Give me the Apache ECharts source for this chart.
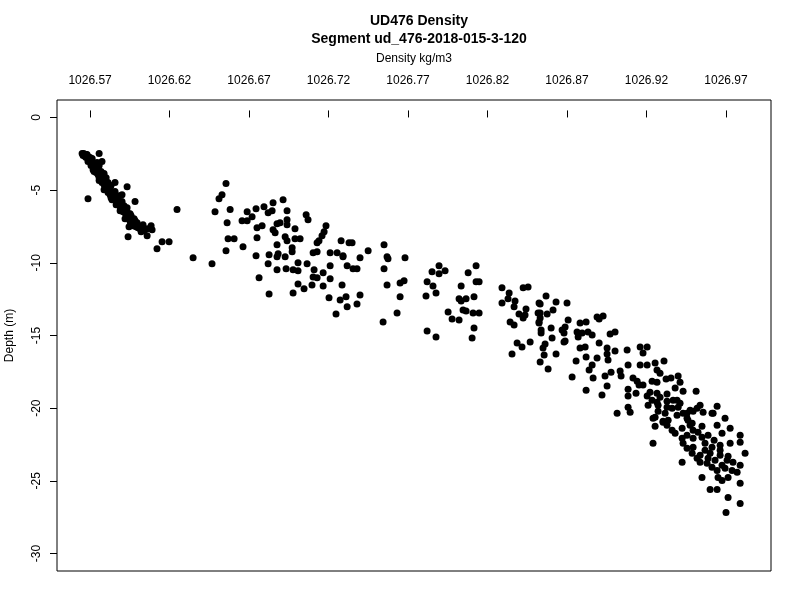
<!DOCTYPE html>
<html>
<head>
<meta charset="utf-8">
<script src="https://cdn.jsdelivr.net/npm/echarts@6/dist/echarts.min.js"></script>
<style>html,body{margin:0;padding:0;background:#fff}#c{width:800px;height:600px}</style>
</head>
<body>
<div id="c"></div>
<script>
const xTicks = [1026.57, 1026.62, 1026.67, 1026.72, 1026.77, 1026.82, 1026.87, 1026.92, 1026.97];
const yTicks = [0, -5, -10, -15, -20, -25, -30];
const titleMain = 'UD476 Density';
const titleSub = 'Segment ud_476-2018-015-3-120';
const xName = 'Density kg/m3';
const yName = 'Depth (m)';

// [density, depth] samples grouped by depth band
const bandSurface = [
[1026.565,-2.48],[1026.566,-2.48],[1026.5675,-2.55],[1026.5656,-2.62],[1026.5669,-2.69],[1026.5687,-2.69],[1026.5681,-2.55],[1026.570,-2.76],[1026.5694,-2.90],[1026.5706,-2.97],
[1026.5719,-3.10],[1026.5713,-3.24],[1026.5725,-3.31],[1026.5738,-3.38],[1026.5731,-3.52],[1026.5744,-3.59],[1026.5725,-3.72],[1026.5738,-3.79],[1026.575,-3.93],[1026.5763,-4.00],
[1026.5757,-4.14],[1026.5769,-4.28],[1026.5782,-4.34],[1026.5775,-4.48],[1026.5788,-4.62],[1026.5801,-4.69],[1026.5794,-4.83],[1026.5807,-4.97],[1026.582,-5.03],[1026.5813,-5.17],
[1026.5826,-5.31],[1026.5838,-5.38],[1026.5832,-5.52],[1026.5851,-5.52],[1026.5864,-5.59],[1026.5876,-5.66],[1026.587,-5.79],[1026.5882,-5.93],[1026.5895,-6.00],[1026.5889,-6.14],
[1026.5901,-6.28],[1026.5914,-6.34],[1026.5908,-6.48],[1026.592,-6.55],[1026.5933,-6.48],[1026.5926,-6.69],[1026.5939,-6.83],[1026.5945,-6.97],[1026.5958,-7.03],[1026.5952,-7.17],
[1026.5964,-7.24],[1026.5977,-7.31],[1026.597,-7.45],[1026.5989,-7.52],[1026.6002,-7.59],[1026.6015,-7.66],[1026.6027,-7.72],[1026.6021,-7.86],[1026.604,-7.79],
[1026.5757,-2.48],[1026.5775,-3.03],[1026.5857,-4.48],[1026.5933,-4.76],[1026.5983,-5.79],[1026.5687,-5.59],[1026.6033,-7.38],[1026.6059,-7.66],[1026.6084,-7.45],[1026.609,-7.72],
[1026.6059,-8.14],[1026.5939,-8.21],[1026.6153,-8.55],[1026.6197,-8.55],[1026.6121,-9.03],[1026.5901,-5.31],
[1026.5675,-2.76],[1026.5713,-2.83],[1026.575,-3.45],[1026.5782,-4.07],[1026.5826,-4.90],[1026.5845,-5.17],[1026.5914,-6.07],[1026.5958,-6.76],[1026.5983,-7.10],
[1026.5687,-3.03],[1026.5706,-3.31],[1026.5744,-3.10],[1026.5757,-3.31],[1026.5719,-3.59],[1026.5769,-3.72],[1026.5788,-3.86],[1026.5757,-4.34],[1026.5801,-4.14],[1026.5813,-4.48],
[1026.5788,-4.97],[1026.5832,-4.69],[1026.5838,-5.66],[1026.5857,-5.10],[1026.5882,-5.38],[1026.5864,-6.00],[1026.5901,-5.79],[1026.5889,-6.41],[1026.5933,-6.21],[1026.592,-6.97],
[1026.5952,-6.62],[1026.5977,-6.97],[1026.5945,-7.52],[1026.5996,-7.24]
];
const bandUpper = [
[1026.6247,-6.34],[1026.6348,-9.66],[1026.6467,-10.07],[1026.6555,-4.55],[1026.653,-5.31],[1026.6511,-5.59],[1026.6486,-6.48],[1026.6581,-6.34],[1026.6562,-7.24],[1026.6656,-7.10],
[1026.6688,-7.10],[1026.6688,-6.48],[1026.6719,-6.83],[1026.6744,-6.28],[1026.675,-7.59],[1026.6568,-8.34],[1026.6606,-8.34],[1026.6662,-8.90],[1026.6555,-9.17],[1026.675,-8.28],
[1026.6744,-9.52],[1026.6794,-6.14],[1026.6851,-5.86],[1026.6914,-5.66],[1026.682,-6.55],[1026.6845,-6.41],[1026.6939,-6.41],[1026.6782,-7.45],[1026.6876,-7.31],[1026.6895,-7.24],
[1026.6851,-7.72],[1026.6864,-7.93],[1026.6939,-7.03],[1026.6939,-7.38],[1026.7059,-6.69],[1026.7071,-7.03],[1026.6989,-7.66],[1026.7184,-7.45],[1026.7172,-7.86],[1026.7159,-8.14],
[1026.714,-8.48],[1026.7128,-8.62],[1026.6876,-8.76],[1026.6927,-8.21],[1026.6939,-8.48],[1026.6989,-8.34],[1026.7021,-8.34],[1026.6971,-8.97],[1026.6971,-9.24],[1026.6826,-9.45],
[1026.6876,-9.59],[1026.6883,-9.38],[1026.6927,-9.59],[1026.682,-10.07],[1026.6876,-10.48],[1026.6933,-10.41],[1026.6977,-10.48],[1026.7008,-10.55],[1026.7008,-10.00],[1026.7065,-10.07],
[1026.7103,-9.31],[1026.7128,-9.24],[1026.721,-9.31],[1026.7254,-9.31],[1026.7291,-9.59],[1026.7279,-8.48],[1026.7329,-8.62],[1026.7398,-9.66],[1026.7449,-9.17],[1026.721,-10.21],
[1026.7317,-10.21],[1026.7354,-10.41],[1026.7379,-10.41],[1026.7109,-10.48],[1026.6763,-11.03],[1026.7008,-11.45],[1026.7046,-11.79],[1026.6977,-12.07],[1026.6826,-12.14],[1026.7103,-10.97],
[1026.7096,-11.52],[1026.7128,-11.03],[1026.7166,-10.69],[1026.7166,-11.59],[1026.721,-11.10],[1026.7285,-11.52],[1026.7203,-12.41],[1026.7273,-12.55],[1026.731,-12.34],[1026.7317,-13.03],
[1026.7379,-12.83],[1026.7398,-12.21],[1026.7247,-13.52],[1026.7549,-8.76],[1026.7568,-9.59],[1026.7549,-10.41],[1026.7568,-11.52],[1026.7543,-14.07],[1026.7631,-13.45],[1026.765,-12.34],
[1026.765,-11.38],[1026.7348,-8.62],[1026.7291,-9.52],[1026.7574,-9.72],[1026.7681,-9.66],[1026.7675,-11.24]
];
const bandMiddle = [
[1026.7895,-10.21],[1026.7851,-10.62],[1026.7895,-10.76],[1026.7933,-10.55],[1026.8128,-10.21],[1026.8078,-10.69],[1026.782,-11.31],[1026.7857,-11.59],[1026.7876,-12.07],[1026.7813,-12.28],
[1026.8128,-11.31],[1026.8147,-11.31],[1026.8034,-11.59],[1026.8021,-12.48],[1026.8034,-12.62],[1026.8065,-12.48],[1026.8115,-12.34],[1026.7952,-13.38],[1026.8046,-13.24],[1026.8065,-13.31],
[1026.8109,-13.45],[1026.8147,-13.45],[1026.7977,-13.86],[1026.8021,-13.93],[1026.8115,-14.48],[1026.8103,-15.17],[1026.782,-14.69],[1026.7876,-15.10],[1026.8291,-11.72],[1026.8336,-12.07],
[1026.8329,-12.48],[1026.8291,-12.76],[1026.8373,-12.62],[1026.8424,-11.72],[1026.8455,-11.66],[1026.8367,-13.03],[1026.8442,-13.17],[1026.8398,-13.52],[1026.8424,-13.79],[1026.8436,-13.59],
[1026.8342,-14.07],[1026.8367,-14.28],[1026.8524,-12.76],[1026.8518,-13.45],[1026.8524,-14.07],[1026.8386,-15.52],[1026.8417,-15.79],[1026.8468,-15.45],[1026.8354,-16.28]
];
const bandLower = [
[1026.8568,-12.28],[1026.8531,-12.83],[1026.8631,-12.69],[1026.870,-12.76],[1026.8612,-13.24],[1026.8531,-13.45],[1026.8575,-13.52],[1026.8531,-13.79],[1026.8524,-14.14],[1026.8707,-13.93],
[1026.8537,-14.62],[1026.860,-14.48],[1026.8537,-14.83],[1026.8669,-14.62],[1026.8688,-14.41],[1026.8606,-15.17],[1026.8681,-15.45],[1026.8562,-15.59],[1026.8549,-15.86],[1026.8556,-16.34],
[1026.8631,-16.28],[1026.8531,-16.83],[1026.8581,-17.31],[1026.8681,-14.83],[1026.8688,-15.38],[1026.8782,-14.14],[1026.882,-14.07],[1026.8763,-14.76],[1026.8795,-14.83],[1026.877,-15.10],
[1026.8832,-14.76],[1026.8858,-14.97],[1026.8902,-13.86],[1026.8927,-13.66],[1026.8889,-13.72],[1026.8971,-14.90],[1026.9002,-14.76],[1026.8782,-15.86],[1026.8814,-15.79],[1026.8902,-15.52],
[1026.8952,-15.86],[1026.8952,-16.28],[1026.8958,-16.69],[1026.9002,-16.07],[1026.9078,-16.00],[1026.916,-15.79],[1026.9204,-15.79],[1026.9178,-16.21],[1026.8757,-16.76],[1026.882,-16.48],
[1026.8889,-16.55],[1026.8858,-17.03],[1026.8839,-17.38],[1026.8732,-17.86],[1026.8864,-17.93],[1026.8939,-17.79],[1026.8977,-17.52],[1026.9034,-17.45],[1026.904,-17.79],[1026.9084,-17.03],
[1026.916,-17.03],[1026.9204,-17.03],[1026.9254,-16.90],[1026.931,-16.76],[1026.9266,-17.38],[1026.9285,-17.59],[1026.9115,-17.93],[1026.9141,-18.14],[1026.9153,-18.41],[1026.9178,-18.41],
[1026.9235,-18.14],[1026.9266,-18.21],[1026.9323,-18.00],[1026.9354,-17.93],[1026.9399,-17.79],[1026.9411,-18.21],[1026.882,-18.76],[1026.892,-19.10],[1026.8952,-18.48],[1026.9084,-18.69],
[1026.9084,-19.17],[1026.9134,-18.97],[1026.9204,-19.17],[1026.9222,-18.90],[1026.9266,-18.97],[1026.9285,-19.24],[1026.9329,-19.03],[1026.938,-18.62],[1026.9392,-19.45],[1026.943,-18.83],
[1026.9512,-18.83],[1026.9084,-19.93],[1026.921,-19.79],[1026.9273,-19.79],[1026.9329,-19.93],[1026.9015,-20.34],[1026.9097,-20.28],[1026.9235,-19.45],[1026.9273,-20.21],[1026.9367,-19.45],
[1026.9399,-19.93],[1026.9392,-20.48],[1026.943,-20.34],[1026.9474,-20.14],[1026.9518,-20.00],[1026.9556,-20.28],[1026.9644,-19.86],[1026.9619,-20.34],[1026.9241,-20.69],[1026.9304,-20.90],
[1026.9336,-20.83],[1026.9455,-20.69],[1026.9487,-21.03],[1026.9549,-21.24],[1026.9694,-20.69],[1026.9644,-21.17],[1026.9726,-21.38]
];
const bandDeep = [
[1026.9266,-19.59],[1026.9329,-19.52],[1026.9411,-19.66],[1026.9361,-20.00],[1026.9537,-19.79],[1026.9254,-20.62],[1026.9317,-20.34],[1026.9455,-20.34],[1026.9493,-20.21],[1026.9612,-20.34],
[1026.9461,-20.83],[1026.9304,-20.97],[1026.9329,-21.17],[1026.9254,-21.24],[1026.9361,-21.52],[1026.938,-21.72],[1026.9424,-21.38],[1026.9474,-21.17],[1026.9493,-21.52],[1026.9455,-21.86],
[1026.9424,-22.07],[1026.9493,-22.07],[1026.9549,-22.00],[1026.9587,-21.86],[1026.9625,-22.21],[1026.9675,-21.72],[1026.9789,-21.86],[1026.9241,-22.41],[1026.943,-22.41],[1026.9455,-22.76],
[1026.9493,-22.69],[1026.9568,-22.41],[1026.9612,-22.69],[1026.9663,-22.55],[1026.9726,-22.41],[1026.9789,-22.34],[1026.9487,-23.10],[1026.9537,-23.24],[1026.960,-23.10],[1026.9663,-23.24],
[1026.9713,-23.31],[1026.9707,-23.59],[1026.982,-23.10],[1026.9424,-23.72],[1026.9537,-23.72],[1026.9581,-23.79],[1026.9612,-24.07],[1026.9644,-24.28],[1026.9694,-24.14],[1026.9738,-24.28],
[1026.977,-24.41],[1026.9789,-23.93],[1026.9549,-24.76],[1026.965,-24.76],[1026.9675,-24.97],[1026.9713,-24.76],[1026.9789,-25.17],[1026.960,-25.59],[1026.9644,-25.59],[1026.9713,-26.14],
[1026.9789,-26.55],[1026.970,-27.17],[1026.9524,-21.66],[1026.9568,-22.90],[1026.9631,-23.59],[1026.9675,-23.93],[1026.9744,-23.72],[1026.9587,-23.45],[1026.9518,-23.45],[1026.9663,-22.90]
];

const allPoints = [].concat(bandSurface, bandUpper, bandMiddle, bandLower, bandDeep);

const FONT = '"Liberation Sans", Arial, Helvetica, sans-serif';
const chart = echarts.init(document.getElementById('c'), null, {renderer: 'canvas'});
chart.setOption({
  backgroundColor: '#ffffff',
  animation: false,
  title: [
    {text: titleMain, left: 414, top: 9, textAlign: 'center',
     textStyle: {fontFamily: FONT, fontSize: 14, fontWeight: 'bold', color: '#000'}},
    {text: titleSub, left: 414, top: 27, textAlign: 'center',
     textStyle: {fontFamily: FONT, fontSize: 14, fontWeight: 'bold', color: '#000'}}
  ],
  grid: {left: 57, right: 29, top: 100, bottom: 29, containLabel: false, outerBoundsMode: 'none',
    show: true, borderColor: '#000', borderWidth: 1, backgroundColor: 'transparent'},
  xAxis: {
    type: 'value', position: 'top', min: 1026.5492, max: 1026.9983,
    name: xName, nameLocation: 'middle', nameGap: 35,
    nameTextStyle: {fontFamily: FONT, fontSize: 12, color: '#000'},
    axisLine: {show: false},
    splitLine: {show: false},
    axisTick: {show: true, length: 7, lineStyle: {color: '#000', width: 1}, customValues: xTicks},
    axisLabel: {show: true, margin: 13, fontFamily: FONT, fontSize: 12, color: '#000', customValues: xTicks,
      formatter: v => v.toFixed(2)}
  },
  yAxis: {
    type: 'value', min: -31.2, max: 1.2,
    name: yName, nameLocation: 'middle', nameGap: 41,
    nameTextStyle: {fontFamily: FONT, fontSize: 12, color: '#000'},
    axisLine: {show: false},
    splitLine: {show: false},
    axisTick: {show: true, length: 7, lineStyle: {color: '#000', width: 1}, customValues: yTicks},
    axisLabel: {show: true, rotate: 90, margin: 14, fontFamily: FONT, fontSize: 12, color: '#000', customValues: yTicks,
      formatter: v => String(Math.round(v))}
  },
  series: [{
    type: 'scatter',
    data: allPoints,
    symbol: 'circle',
    symbolSize: 7,
    itemStyle: {color: '#000', opacity: 1},
    silent: true
  }]
});
</script>
</body>
</html>
